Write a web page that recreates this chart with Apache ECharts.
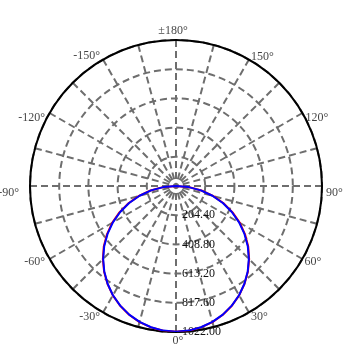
<!DOCTYPE html>
<html><head><meta charset="utf-8">
<script src="https://cdn.jsdelivr.net/npm/echarts@6/dist/echarts.min.js"></script>
<style>html,body{margin:0;padding:0;background:#fff}#c{width:350px;height:350px}</style>
</head><body><div id="c"></div>
<script>
var angles = [-90,-85,-80,-75,-70,-65,-60,-55,-50,-45,-40,-35,-30,-25,-20,-15,-10,-5,0,5,10,15,20,25,30,35,40,45,50,55,60,65,70,75,80,85,90];
var blueValues = [0,89,177,264,349,431,510,585,656,721,781,835,883,924,958,985,1004,1016,1020,1016,1004,985,958,924,883,835,781,721,656,585,510,431,349,264,177,89,0];
var redValues  = [0,92,181,268,354,437,516,590,660,724,783,836,884,925,959,986,1005,1017,1021,1017,1005,986,959,925,884,836,783,724,660,590,516,437,354,268,181,92,0];
var radialTicks = [0, 204.4, 408.8, 613.2, 817.6, 1022.0];
var angleLabels = [0, 30, 60, 90, 120, 150, 180, -150, -120, -90, -60, -30];
var angleLabelTexts = ['0\u00b0','30\u00b0','60\u00b0','90\u00b0','120\u00b0','150\u00b0','\u00b1180\u00b0','-150\u00b0','-120\u00b0','-90\u00b0','-60\u00b0','-30\u00b0'];

function toAng(a){ return a < 0 ? a + 360 : a; }
function toPairs(vals){
  return vals.map(function(v,i){ return [v, toAng(angles[i])]; });
}
// label placement (offsets in px from the point on the outer circle)
var labelStyle = {
  '0':    { align: 'center', off: [2, 9] },
  '30':   { align: 'left',   off: [2, 4] },
  '60':   { align: 'left',   off: [2, 2.5] },
  '90':   { align: 'left',   off: [4, 7] },
  '120':  { align: 'left',   off: [3, 4.5] },
  '150':  { align: 'left',   off: [2, -3] },
  '180':  { align: 'center', off: [-3, -9] },
  '-150': { align: 'right',  off: [-3, -3.5] },
  '-120': { align: 'right',  off: [-4.5, 5] },
  '-90':  { align: 'right',  off: [-11, 7] },
  '-60':  { align: 'right',  off: [-4.5, 3] },
  '-30':  { align: 'right',  off: [-3, 4] }
};
var font = '"Liberation Serif", "Times New Roman", serif';
var rMax = radialTicks[radialTicks.length - 1];
var labelData = angleLabels.map(function (a, i) {
  var s = labelStyle[String(a)];
  return {
    value: [rMax, toAng(a)],
    label: { show: true, position: 'inside', offset: s.off, align: s.align, verticalAlign: 'middle',
             formatter: angleLabelTexts[i], color: '#111', fontFamily: font, fontSize: 12 }
  };
});

var chart = echarts.init(document.getElementById('c'));
chart.setOption({
  animation: false,
  polar: { center: [176, 186], radius: 146 },
  angleAxis: {
    type: 'value', min: 0, max: 360, interval: 15,
    startAngle: 270, clockwise: false,
    axisLine: { show: true, lineStyle: { color: '#000', width: 2 } },
    axisTick: { show: false },
    splitLine: { show: true, lineStyle: { color: '#6e6e6e', width: 2, type: [7, 4] } },
    axisLabel: { show: false }
  },
  radiusAxis: {
    type: 'value', min: radialTicks[0], max: rMax, interval: radialTicks[1],
    axisLine: { show: false },
    axisTick: { show: false },
    splitLine: { show: true, lineStyle: { color: '#6e6e6e', width: 2, type: [7, 4] } },
    axisLabel: {
      show: true, showMinLabel: false, color: '#111', fontFamily: font, fontSize: 12, margin: 6,
      formatter: function (v) { return v.toFixed(2); }
    }
  },
  series: [
    { type: 'line', coordinateSystem: 'polar', data: toPairs(redValues), symbol: 'none',
      lineStyle: { color: '#ff0000', width: 2 }, z: 3, silent: true },
    { type: 'line', coordinateSystem: 'polar', data: toPairs(blueValues), symbol: 'none',
      lineStyle: { color: '#0000ff', width: 2 }, z: 4, silent: true },
    { type: 'scatter', coordinateSystem: 'polar', data: labelData, symbolSize: 1,
      itemStyle: { color: 'rgba(0,0,0,0)' }, silent: true, z: 5 }
  ]
});
</script></body></html>
